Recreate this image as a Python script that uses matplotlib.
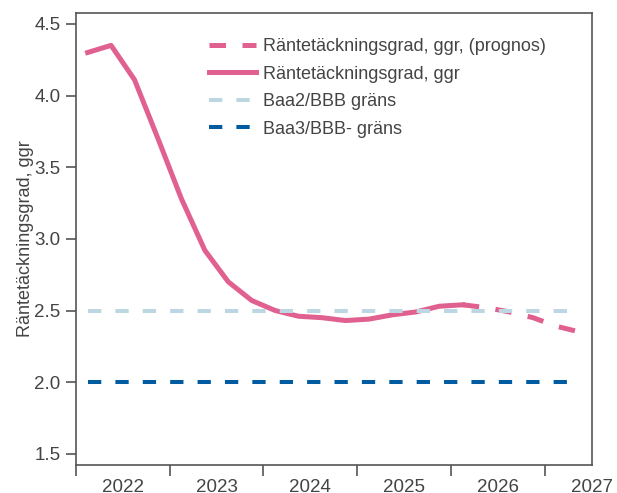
import numpy as np
import matplotlib.pyplot as plt
from matplotlib.ticker import FixedLocator, NullFormatter, FixedFormatter

plt.rcParams['font.family'] = ['Liberation Sans', 'DejaVu Sans']

# kvartalsdata, 2022 Q1 - 2027 Q2
utfall = [4.30, 4.35, 4.11, 3.70, 3.28, 2.92, 2.70, 2.57, 2.50, 2.46, 2.45,
          2.43, 2.44, 2.47, 2.49, 2.53, 2.54]
prognos = [2.54, 2.52, 2.49, 2.45, 2.39, 2.35]
baa2 = 2.5
baa3 = 2.0
years = ['2022', '2023', '2024', '2025', '2026', '2027']

n = len(utfall) + len(prognos) - 1
x = (np.arange(n) + 0.5) / 4
x_utfall = x[:len(utfall)]
x_prognos = x[len(utfall) - 1:]

pink = '#E0608F'
light = '#BCD6E2'
dark = '#005BA1'
grey = '#444444'

fig = plt.figure(figsize=(6.17, 4.93), dpi=100)
ax = fig.add_axes([0.123, 0.057, 0.836, 0.917])

ax.plot(x_prognos, prognos, color=pink, lw=3.6, dashes=(3.3, 3.3),
        label='Räntetäckningsgrad, ggr, (prognos)')
ax.plot(x_utfall, utfall, color=pink, lw=3.6,
        label='Räntetäckningsgrad, ggr')
ax.plot(x, np.full(n, baa2), color=light, lw=2.9, dashes=(3.3, 3.5),
        label='Baa2/BBB gräns')
ax.plot(x, np.full(n, baa3), color=dark, lw=2.9, dashes=(3.3, 3.5),
        label='Baa3/BBB- gräns')

ax.set_xlim(0, 5.5)
ax.set_ylim(1.423, 4.577)
ax.set_yticks([1.5, 2.0, 2.5, 3.0, 3.5, 4.0, 4.5])
ax.set_yticklabels(['1.5', '2.0', '2.5', '3.0', '3.5', '4.0', '4.5'])

ax.xaxis.set_major_locator(FixedLocator(np.arange(0, 6)))
ax.xaxis.set_major_formatter(NullFormatter())
ax.xaxis.set_minor_locator(FixedLocator(np.arange(len(years)) + 0.5))
ax.xaxis.set_minor_formatter(FixedFormatter(years))
ax.tick_params(axis='x', which='major', length=8, width=1.2, color='#555555')
ax.tick_params(axis='x', which='minor', length=0, pad=10, labelsize=13.5, labelcolor=grey)
ax.tick_params(axis='y', length=7, width=1.2, color='#555555', labelsize=13.5,
               labelcolor=grey, pad=4)

for s in ax.spines.values():
    s.set_color('#555555')
    s.set_linewidth(1.2)

ax.set_ylabel('Räntetäckningsgrad, ggr', fontsize=13, color=grey, labelpad=0)

leg = ax.legend(loc='upper left', bbox_to_anchor=(0.245, 0.96), frameon=False,
                fontsize=13, handlelength=2.6, handletextpad=0.35, labelspacing=0.58,
                borderaxespad=0)
for t in leg.get_texts():
    t.set_color(grey)

fig.savefig('out.png', dpi=100)
